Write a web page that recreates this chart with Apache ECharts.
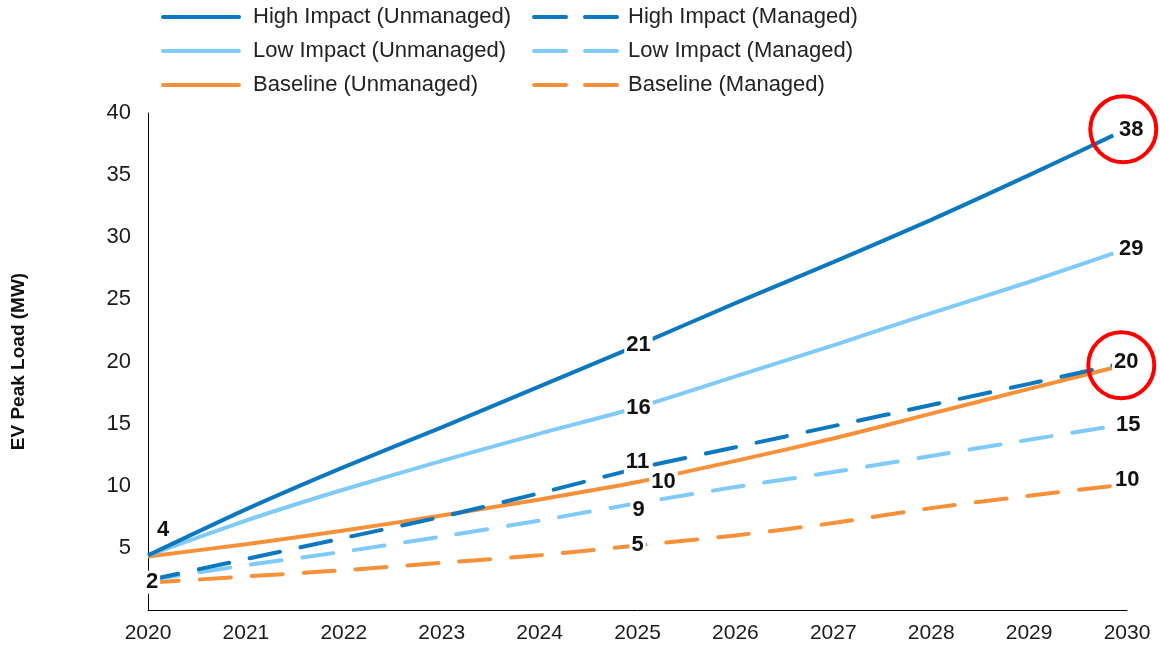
<!DOCTYPE html>
<html>
<head>
<meta charset="utf-8">
<script src="https://cdn.jsdelivr.net/npm/echarts@6/dist/echarts.min.js"></script>
<style>
  html, body { margin: 0; padding: 0; background: #ffffff; }
  #chart { width: 1160px; height: 649px; }
</style>
</head>
<body>
<div id="chart"></div>
<script>
// EV peak load scenarios, 2020-2030 (MW)
const years = [2020, 2021, 2022, 2023, 2024, 2025, 2026, 2027, 2028, 2029, 2029.86];

const highUnmanaged = [4.4, 8.1, 11.5, 14.7, 18.0, 21.3, 24.7, 28.0, 31.4, 35.0, 38.2];
const lowUnmanaged  = [4.4, 7.2, 9.7, 12.0, 14.2, 16.3, 18.8, 21.3, 23.9, 26.4, 28.7];
const baseUnmanaged = [4.3, 5.3, 6.4, 7.6, 8.9, 10.3, 12.0, 13.8, 15.8, 17.8, 19.5];
const highManaged   = [2.4, 4.1, 5.8, 7.5, 9.4, 11.4, 13.1, 14.8, 16.5, 18.2, 19.7];
const lowManaged    = [2.4, 3.6, 4.7, 5.9, 7.2, 8.6, 9.9, 11.1, 12.4, 13.7, 14.8];
const baseManaged   = [2.2, 2.7, 3.2, 3.8, 4.4, 5.2, 6.0, 7.0, 8.2, 9.2, 10.0];

const seriesNames = [
  'High Impact (Unmanaged)', 'High Impact (Managed)',
  'Low Impact (Unmanaged)', 'Low Impact (Managed)',
  'Baseline (Unmanaged)', 'Baseline (Managed)'
];

const DARK_BLUE = '#0B78BF';
const LIGHT_BLUE = '#7FCAF9';
const ORANGE = '#F6913A';
const FONT = '"Liberation Sans", Arial, sans-serif';

// legend keys: a solid bar and a two-dash bar
const SOLID_ICON = 'path://M2,0H78A2,2 0 0 1 78,4H2A2,2 0 0 1 2,0Z';
const DASH_ICON = 'path://M2,0H34A2,2 0 0 1 34,4H2A2,2 0 0 1 2,0Z M53,0H85A2,2 0 0 1 85,4H53A2,2 0 0 1 53,0Z';

// value labels: [index, offsetX, offsetY]
const highUnmanagedLabels = [[0, 15, -25], [5, 1, 0], [10, 18, -5]];
const lowUnmanagedLabels  = [[5, 1, 0], [10, 18, -4]];
const baseUnmanagedLabels = [[5, 26, 0]];
const highManagedLabels   = [[0, 4, 2], [5, 0, -6], [10, 13, -3]];
const lowManagedLabels    = [[5, 1, 7], [10, 15, -1]];
const baseManagedLabels   = [[5, 0, 0], [10, 14, -6]];

// highlighted end points: [index, offsetX, offsetY]
const highUnmanagedRing = [[10, 10, -6]];
const highManagedRing   = [[10, 8, 0]];

function pairs(vals) {
  return vals.map((v, i) => [years[i], v]);
}

function markItems(vals, labels, rings) {
  const items = [];
  (rings || []).forEach(([i, dx, dy]) => {
    items.push({
      coord: [years[i], vals[i]],
      value: vals[i],
      symbol: 'circle',
      symbolSize: 66,
      symbolOffset: [dx, dy],
      itemStyle: { color: 'rgba(255,255,255,0)', borderColor: '#FF0000', borderWidth: 4 },
      label: { show: false }
    });
  });
  labels.forEach(([i, dx, dy]) => {
    items.push({
      coord: [years[i], vals[i]],
      value: vals[i],
      symbolSize: 0,
      label: { offset: [dx, dy] }
    });
  });
  return items;
}

function lineSeries(name, vals, color, dashed, labels, rings) {
  return {
    name: name,
    type: 'line',
    data: pairs(vals),
    symbol: 'none',
    smooth: 0.2,
    lineStyle: { color: color, width: 4, type: dashed ? [31, 21] : 'solid', cap: dashed ? 'round' : 'butt' },
    itemStyle: { color: color },
    emphasis: { disabled: true },
    markPoint: {
      symbol: 'circle',
      symbolSize: 0,
      animation: false,
      silent: true,
      label: {
        show: true,
        position: 'inside',
        formatter: p => String(Math.round(p.value)),
        fontFamily: FONT,
        fontWeight: 'bold',
        fontSize: 22,
        color: '#111111',
        backgroundColor: '#ffffff',
        padding: [1, 2, 0, 2]
      },
      data: markItems(vals, labels, rings)
    }
  };
}

const legendBase = {
  orient: 'vertical',
  top: 1,
  itemHeight: 4,
  itemGap: 12,
  selectedMode: false,
  textStyle: { fontFamily: FONT, fontSize: 22, color: '#222222', padding: [0, 0, 0, 7] }
};

const chart = echarts.init(document.getElementById('chart'), null, { renderer: 'canvas' });

chart.setOption({
  animation: false,
  backgroundColor: '#ffffff',
  legend: [
    Object.assign({}, legendBase, {
      left: 156,
      itemWidth: 80,
      data: [seriesNames[0], seriesNames[2], seriesNames[4]].map(n => ({ name: n, icon: SOLID_ICON }))
    }),
    Object.assign({}, legendBase, {
      left: 527,
      itemWidth: 87,
      textStyle: Object.assign({}, legendBase.textStyle, { padding: [0, 0, 0, 4] }),
      data: [seriesNames[1], seriesNames[3], seriesNames[5]].map(n => ({ name: n, icon: DASH_ICON }))
    })
  ],
  grid: { left: 148, right: 33, top: 113, bottom: 39, containLabel: false },
  xAxis: {
    type: 'value',
    min: 2020,
    max: 2030,
    interval: 1,
    axisLine: { show: true, onZero: false, lineStyle: { color: '#000000', width: 1 } },
    axisTick: { show: false },
    splitLine: { show: false },
    axisLabel: {
      margin: 13,
      fontFamily: FONT,
      fontSize: 21,
      color: '#1a1a1a',
      formatter: v => String(v)
    }
  },
  yAxis: {
    type: 'value',
    min: 0,
    max: 40,
    interval: 5,
    name: 'EV Peak Load (MW)',
    nameLocation: 'middle',
    nameGap: 120,
    nameTextStyle: { fontFamily: FONT, fontWeight: 'bold', fontSize: 19, color: '#111111' },
    axisLine: { show: true, lineStyle: { color: '#000000', width: 1 } },
    axisTick: { show: false },
    splitLine: { show: false },
    axisLabel: {
      showMinLabel: false,
      margin: 17,
      fontFamily: FONT,
      fontSize: 22,
      color: '#1a1a1a'
    }
  },
  series: [
    lineSeries(seriesNames[5], baseManaged, ORANGE, true, baseManagedLabels),
    lineSeries(seriesNames[3], lowManaged, LIGHT_BLUE, true, lowManagedLabels),
    lineSeries(seriesNames[4], baseUnmanaged, ORANGE, false, baseUnmanagedLabels),
    lineSeries(seriesNames[1], highManaged, DARK_BLUE, true, highManagedLabels, highManagedRing),
    lineSeries(seriesNames[2], lowUnmanaged, LIGHT_BLUE, false, lowUnmanagedLabels),
    lineSeries(seriesNames[0], highUnmanaged, DARK_BLUE, false, highUnmanagedLabels, highUnmanagedRing)
  ]
});
</script>
</body>
</html>
